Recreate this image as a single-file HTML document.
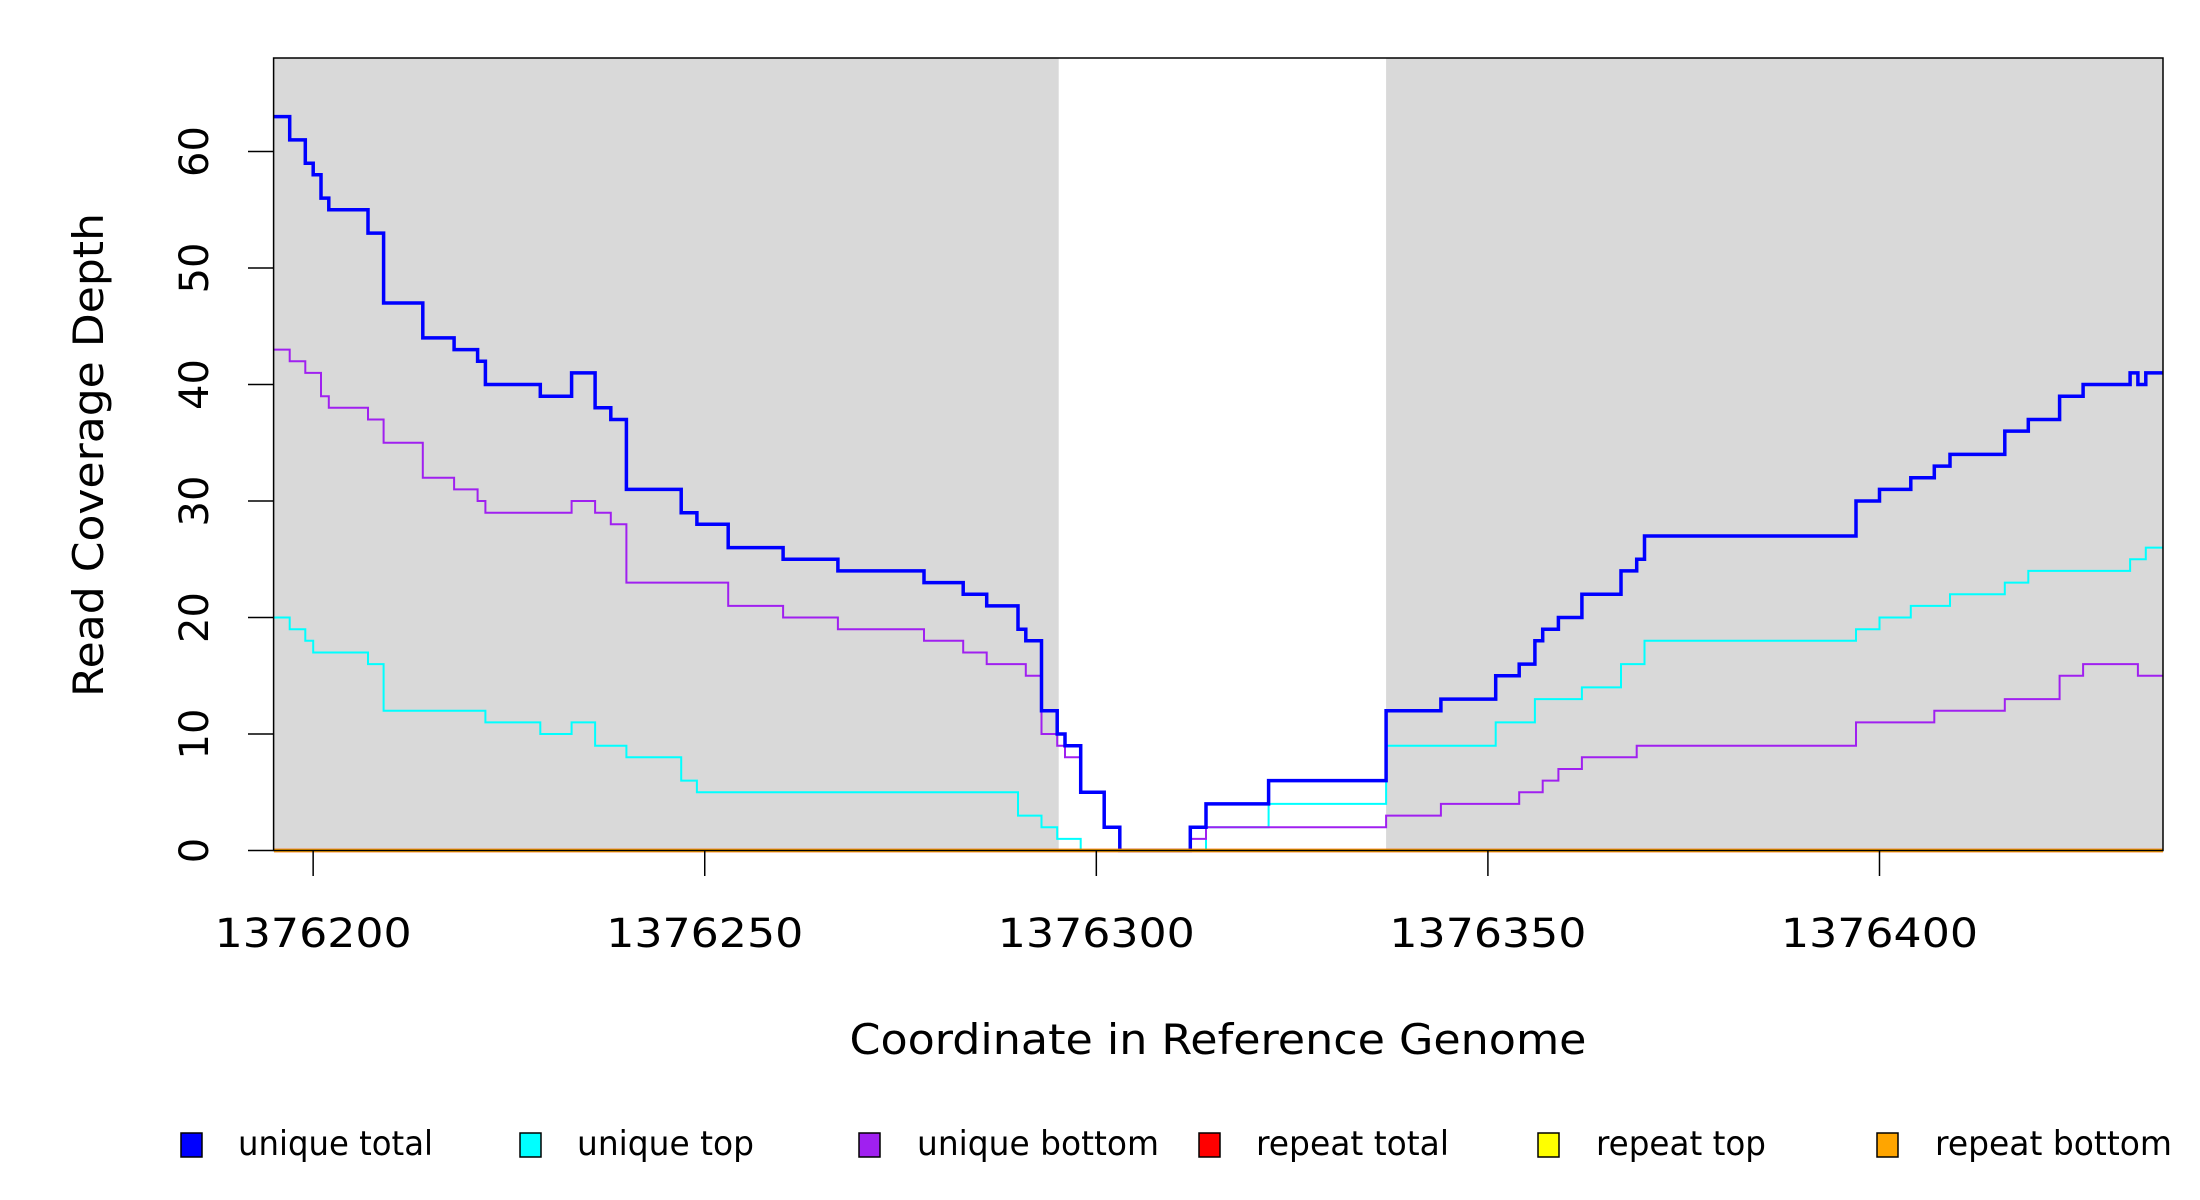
<!DOCTYPE html>
<html><head><meta charset="utf-8"><style>
html,body{margin:0;padding:0;background:#fff;}
svg{display:block;font-family:"DejaVu Sans","Liberation Sans",sans-serif;}
</style></head><body>
<svg id="chart" width="2200" height="1200" viewBox="0 0 2200 1200" xmlns="http://www.w3.org/2000/svg">
<g id="bg"></g>
<g id="series"></g>
<rect x="273.6" y="58" width="1889.4" height="792.5" fill="none" stroke="#000" stroke-width="1.5"/>
<g id="axes"></g>
<text x="1218" y="1054" font-size="42" text-anchor="middle" textLength="737" lengthAdjust="spacingAndGlyphs">Coordinate in Reference Genome</text>
<text transform="translate(103,455) rotate(-90)" font-size="42" text-anchor="middle" textLength="484" lengthAdjust="spacingAndGlyphs">Read Coverage Depth</text>
<g id="legend"></g>
</svg>
<script>
// data (change points: series takes value at and after each position)
const totalPos = [195,197,199,200,201,202,207,209,214,218,221,222,229,233,236,238,240,247,249,253,260,267,278,283,286,290,291,293,295,296,298,301,303,312,314,322,337,344,351,354,356,357,359,362,367,369,370,397,400,404,407,409,416,419,423,426,432,433,434];
const totalVal = [63,61,59,58,56,55,53,47,44,43,42,40,39,41,38,37,31,29,28,26,25,24,23,22,21,19,18,12,10,9,5,2,0,2,4,6,12,13,15,16,18,19,20,22,24,25,27,30,31,32,33,34,36,37,39,40,41,40,41];
const topPos = [195,197,199,200,207,209,222,229,233,236,240,247,249,290,293,295,298,314,322,337,351,356,362,367,370,397,400,404,409,416,419,432,434];
const topVal = [20,19,18,17,16,12,11,10,11,9,8,6,5,3,2,1,0,2,4,9,11,13,14,16,18,19,20,21,22,23,24,25,26];
const botPos = [195,197,199,201,202,207,209,214,218,221,222,233,236,238,240,253,260,267,278,283,286,291,293,295,296,298,301,303,312,314,337,344,354,357,359,362,369,397,407,416,423,426,433];
const botVal = [43,42,41,39,38,37,35,32,31,30,29,30,29,28,23,21,20,19,18,17,16,15,10,9,8,5,2,0,1,2,3,4,5,6,7,8,9,11,12,13,15,16,15];
const repeatPos = [195];
const repeatTotalVal = [0];
const repeatTopVal = [0];
const repeatBotVal = [0];
const xTicks = [1376200,1376250,1376300,1376350,1376400];
const yTicks = [0,10,20,30,40,50,60];
const shadeRanges = [[194.9,295.2],[337,436.2]];
const legendLabels = ["unique total","unique top","unique bottom","repeat total","repeat top","repeat bottom"];
const legendColors = ["#0000ff","#00ffff","#a020f0","#ff0000","#ffff00","#ffa500"];

const X0=1376000, XMIN=194.95, XMAX=436.2;
const PX0=273.6, PX1=2163, PY0=850.5, PY1=58, YMAX=68.03;
const NS="http://www.w3.org/2000/svg";
function sx(c){return PX0+(c-XMIN)/(XMAX-XMIN)*(PX1-PX0);}
function sy(v){return PY0-(v/YMAX)*(PY0-PY1);}
function mk(tag,attrs,parent){const e=document.createElementNS(NS,tag);for(const k in attrs)e.setAttribute(k,attrs[k]);parent.appendChild(e);return e;}

const bg=document.getElementById('bg');
shadeRanges.forEach((r,i)=>{
  const e=mk('rect',{x:Math.max(PX0,sx(r[0])),y:PY1,width:Math.min(PX1,sx(r[1]))-Math.max(PX0,sx(r[0])),height:PY0-PY1,fill:'#d9d9d9'},bg);
  
  
});

function stepPath(pos,val){
  let d='M'+Math.max(PX0,sx(pos[0])).toFixed(1)+','+sy(val[0]).toFixed(1);
  for(let i=1;i<pos.length;i++){
    d+=' H'+sx(pos[i]).toFixed(1)+' V'+sy(val[i]).toFixed(1);
  }
  d+=' H'+PX1;
  return d;
}
const sg=document.getElementById('series');
const defs=[[topPos,topVal,'#00ffff',2,'unique-top-line'],[botPos,botVal,'#a020f0',2,'unique-bottom-line'],[totalPos,totalVal,'#0000ff',3.5,'unique-total-line'],
 [repeatPos,repeatTotalVal,'#ff0000',3.5,'repeat-total-line'],[repeatPos,repeatTopVal,'#ffff00',2,'repeat-top-line'],[repeatPos,repeatBotVal,'#ffa500',3.5,'repeat-bottom-line']];
defs.forEach(s=>{
  const p=mk('path',{d:stepPath(s[0],s[1]),fill:'none',stroke:s[2],'stroke-width':s[3]},sg);
  
  
});

const ax=document.getElementById('axes');
xTicks.forEach(t=>{
  const x=sx(t-X0);
  const l=mk('line',{x1:x,x2:x,y1:PY0,y2:876,stroke:'#000','stroke-width':1.5},ax);
  
  
  const tx=mk('text',{x:x,y:947,'font-size':40,'text-anchor':'middle',textLength:197,lengthAdjust:'spacingAndGlyphs'},ax);
  tx.textContent=String(t);
  
  
});
yTicks.forEach(t=>{
  const y=sy(t);
  const l=mk('line',{x1:248,x2:PX0,y1:y,y2:y,stroke:'#000','stroke-width':1.5},ax);
  
  
  const tx=mk('text',{transform:'translate(208,'+y+') rotate(-90)','font-size':40,'text-anchor':'middle'},ax);
  tx.textContent=String(t);
  
  
});

const lg=document.getElementById('legend');
const boxX=[181,520,859,1199,1538,1877];
const txtX=[238,577,917,1256,1596,1935];
const txtW=[195,177,242,193,170,237];
legendLabels.forEach((lab,i)=>{
  const b=mk('rect',{x:boxX[i],y:1133,width:21,height:24,fill:legendColors[i],stroke:'#000','stroke-width':1.5},lg);
  
  
  const t=mk('text',{x:txtX[i],y:1155,'font-size':34,textLength:txtW[i],lengthAdjust:'spacingAndGlyphs'},lg);
  t.textContent=lab;
  
  
});
</script>
</body></html>
